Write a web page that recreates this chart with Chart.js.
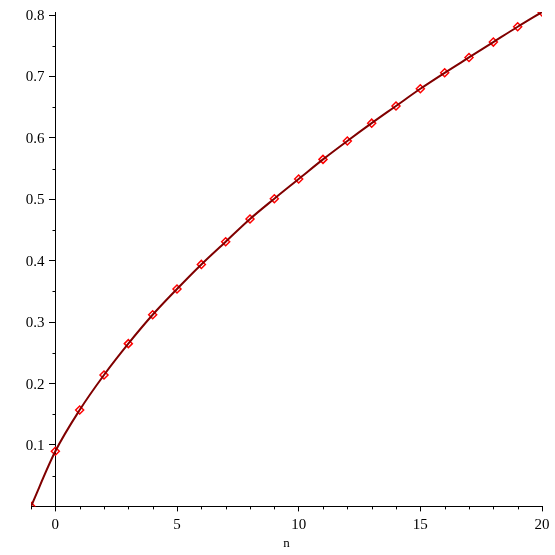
<!DOCTYPE html>
<html>
<head>
<meta charset="utf-8">
<script src="https://cdn.jsdelivr.net/npm/chart.js@4"></script>
<style>
  html, body { margin: 0; padding: 0; background: #fff; }
  #wrap { width: 555px; height: 555px; }
</style>
</head>
<body>
<div id="wrap"><canvas id="plot"></canvas></div>
<script>
// values
const nValues = [-1, 0, 1, 2, 3, 4, 5, 6, 7, 8, 9, 10, 11, 12, 13, 14, 15, 16, 17, 18, 19, 20];
const yValues = [0, 0.0897, 0.157, 0.214, 0.265, 0.312, 0.354, 0.394, 0.431, 0.468, 0.501,
                 0.533, 0.565, 0.595, 0.624, 0.652, 0.680, 0.706, 0.731, 0.756, 0.781, 0.805];
const xMajorTicks = [0, 5, 10, 15, 20];
const yMajorTicks = [0.1, 0.2, 0.3, 0.4, 0.5, 0.6, 0.7, 0.8];

const points = nValues.map((n, i) => ({ x: n, y: yValues[i] }));

const isXMajor = v => xMajorTicks.includes(v);
const isYMajor = v => yMajorTicks.some(t => Math.abs(t - v) < 1e-6);

const font = { family: "'Liberation Serif', 'Times New Roman', serif", size: 15 };

// short minor ticks, and the y labels (axis sits at n = 0, labels go left of it)
const axisExtras = {
  id: "axisExtras",
  afterDraw(chart) {
    const { ctx, scales: { x, y } } = chart;
    ctx.save();
    ctx.strokeStyle = "#000";
    ctx.lineWidth = 1;
    ctx.beginPath();
    x.ticks.forEach(t => {
      if (isXMajor(t.value)) return;
      const px = Math.round(x.getPixelForValue(t.value)) + 0.5;
      ctx.moveTo(px, y.bottom);
      ctx.lineTo(px, y.bottom + 3);
    });
    const x0 = Math.round(x.getPixelForValue(0)) + 0.5;
    y.ticks.forEach(t => {
      if (isYMajor(t.value) || t.value === 0) return;
      const py = Math.round(y.getPixelForValue(t.value)) + 0.5;
      ctx.moveTo(x0, py);
      ctx.lineTo(x0 - 3, py);
    });
    ctx.stroke();

    ctx.fillStyle = "#000";
    ctx.font = font.size + "px " + font.family;
    ctx.textAlign = "right";
    ctx.textBaseline = "middle";
    yMajorTicks.forEach(v => {
      ctx.fillText(v.toFixed(1), x0 - 11, y.getPixelForValue(v) + 1);
    });
    ctx.restore();
  }
};

new Chart(document.getElementById("plot"), {
  type: "scatter",
  data: {
    datasets: [
      {
        type: "line",
        data: points,
        borderColor: "#800000",
        borderWidth: 2,
        pointRadius: 0,
        cubicInterpolationMode: "monotone",
        fill: false,
        order: 0
      },
      {
        data: points,
        pointStyle: "rectRot",
        pointRadius: 4,
        pointBorderWidth: 1.5,
        pointBorderColor: "#ff0000",
        pointBackgroundColor: "rgba(255,255,255,0)",
        order: 1
      }
    ]
  },
  plugins: [axisExtras],
  options: {
    responsive: true,
    maintainAspectRatio: false,
    animation: false,
    layout: { padding: { left: 31, right: 13, top: 12, bottom: 4 } },
    plugins: { legend: { display: false }, tooltip: { enabled: false } },
    scales: {
      x: {
        type: "linear",
        min: -1,
        max: 20,
        border: { color: "#000", width: 1 },
        grid: {
          drawOnChartArea: false,
          tickLength: 5,
          tickColor: c => (c.tick && isXMajor(c.tick.value)) ? "#000" : "rgba(0,0,0,0)"
        },
        ticks: {
          stepSize: 1,
          autoSkip: false,
          maxRotation: 0,
          padding: 5,
          color: "#000",
          font: font,
          callback: v => isXMajor(v) ? String(v) : ""
        },
        title: {
          display: true,
          text: "n",
          color: "#000",
          font: { family: font.family, size: 13 },
          padding: { top: -4, bottom: 0 }
        }
      },
      y: {
        type: "linear",
        min: 0,
        max: 0.805,
        position: { x: 0 },
        border: { color: "#000", width: 1 },
        grid: {
          drawOnChartArea: false,
          tickLength: 6,
          tickColor: c => (c.tick && isYMajor(c.tick.value)) ? "#000" : "rgba(0,0,0,0)"
        },
        ticks: {
          stepSize: 0.05,
          includeBounds: false,
          autoSkip: false,
          display: false
        }
      }
    }
  }
});
</script>
</body>
</html>
